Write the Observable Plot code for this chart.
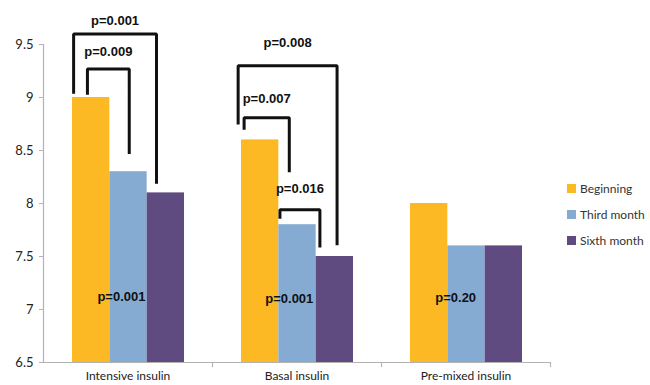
<!DOCTYPE html>
<html><head><meta charset="utf-8">
<script src="https://cdn.jsdelivr.net/npm/d3@7"></script>
<script src="https://cdn.jsdelivr.net/npm/@observablehq/plot@0.6"></script>
<style>
body{margin:0;background:#fff;}
#wrap{position:relative;width:650px;height:385px;overflow:hidden;}
#legend{position:absolute;left:567px;top:175px;font:12px Lato, sans-serif;color:#333;}
.item{display:flex;align-items:center;height:26px;}
.sw{width:9px;height:9px;margin-right:4px;}
</style></head><body><div id="wrap"></div>
<script>
// categories and series
const groups = ["Intensive insulin", "Basal insulin", "Pre-mixed insulin"];
const series = ["Beginning", "Third month", "Sixth month"];
const beginning  = [9.0, 8.6, 8.0];
const thirdMonth = [8.3, 7.8, 7.6];
const sixthMonth = [8.1, 7.5, 7.6];
const colors = ["#FCB923", "#86ABD3", "#5F4B7F"];
const yTicks = [6.5, 7, 7.5, 8, 8.5, 9, 9.5];

// significance brackets (x in bar units inside each group, y in data units)
const bracketGroup    = ["Intensive insulin", "Intensive insulin", "Basal insulin", "Basal insulin", "Basal insulin"];
const bracketLabel    = ["p=0.001", "p=0.009", "p=0.008", "p=0.007", "p=0.016"];
const bracketLeft     = [0.03, 0.40, -0.09, 0.07, 1.03];
const bracketRight    = [2.25, 1.52, 2.56, 1.28, 2.10];
const bracketTop      = [9.60, 9.27, 9.30, 8.81, 7.94];
const bracketLeftEnd  = [9.05, 9.04, 8.76, 8.71, 7.87];
const bracketRightEnd = [8.20, 8.48, 7.62, 8.31, 7.60];
const bracketLabelY   = [9.72, 9.43, 9.52, 8.99, 8.14];

// overall p-values inside bars
const overallLabel = ["p=0.001", "p=0.001", "p=0.20"];
const overallX = [1.31, 1.28, 1.21];
const overallY = [7.12, 7.10, 7.11];

const values = [beginning, thirdMonth, sixthMonth];
const rows = groups.flatMap((g, i) => series.map((s, j) => ({group: g, series: s, k: j, value: values[j][i]})));
const bracketPts = bracketLabel.flatMap((lab, i) => [
  {id: i, fx: bracketGroup[i], x: bracketLeft[i], y: bracketLeftEnd[i]},
  {id: i, fx: bracketGroup[i], x: bracketLeft[i], y: bracketTop[i]},
  {id: i, fx: bracketGroup[i], x: bracketRight[i], y: bracketTop[i]},
  {id: i, fx: bracketGroup[i], x: bracketRight[i], y: bracketRightEnd[i]}
]);
const bracketTexts = bracketLabel.map((lab, i) => ({fx: bracketGroup[i], x: (bracketLeft[i] + bracketRight[i]) / 2, y: bracketLabelY[i], text: lab}));
const overallTexts = overallLabel.map((lab, i) => ({fx: groups[i], x: overallX[i], y: overallY[i], text: lab}));

const axisGray = "#b3b3b3";
const chart = Plot.plot({
  width: 650, height: 385,
  marginLeft: 42, marginRight: 100, marginTop: 44, marginBottom: 23,
  style: {background: "#fff", fontFamily: "Lato, sans-serif"},
  fx: {domain: groups, padding: 0, axis: null},
  x: {domain: [0, 3], insetLeft: 29, insetRight: 28, axis: null},
  y: {domain: [6.5, 9.5], axis: null},
  color: {domain: series, range: colors},
  marks: [
    Plot.rectY(rows, {fx: "group", x1: "k", x2: d => d.k + 1, y1: 6.5, y2: "value", fill: "series"}),
    Plot.ruleY([6.5], {stroke: axisGray, strokeWidth: 1.2}),
    Plot.frame({anchor: "left", facetAnchor: "left", stroke: axisGray, strokeWidth: 1.2}),
    Plot.frame({anchor: "right", insetTop: 318, insetBottom: -4, stroke: axisGray, strokeWidth: 1.2}),
    Plot.axisY({ticks: yTicks, tickFormat: d => `${d}`, tickSize: 4, tickPadding: 6, fontSize: 13, stroke: axisGray, fill: "#222", label: null}),
    Plot.axisFx({anchor: "bottom", tickSize: 0, tickPadding: 9, fontSize: 12, fill: "#222", label: null}),
    Plot.line(bracketPts, {fx: "fx", x: "x", y: "y", z: "id", stroke: "#111", strokeWidth: 3, strokeLinejoin: "miter", strokeLinecap: "square"}),
    Plot.text(bracketTexts, {fx: "fx", x: "x", y: "y", text: "text", fontSize: 13, fontWeight: "bold", fontFamily: "Liberation Sans, Arial, sans-serif", fill: "#111"}),
    Plot.text(overallTexts, {fx: "fx", x: "x", y: "y", text: "text", fontSize: 13, fontWeight: "bold", fontFamily: "Liberation Sans, Arial, sans-serif", fill: "#111"})
  ]
});
const wrap = document.getElementById("wrap");
wrap.appendChild(chart);
const legend = document.createElement("div");
legend.id = "legend";
series.forEach((s, i) => {
  const it = document.createElement("div");
  it.className = "item";
  const sw = document.createElement("span");
  sw.className = "sw";
  sw.style.background = colors[i];
  const t = document.createElement("span");
  t.textContent = s;
  it.appendChild(sw); it.appendChild(t);
  legend.appendChild(it);
});
wrap.appendChild(legend);
</script></body></html>
